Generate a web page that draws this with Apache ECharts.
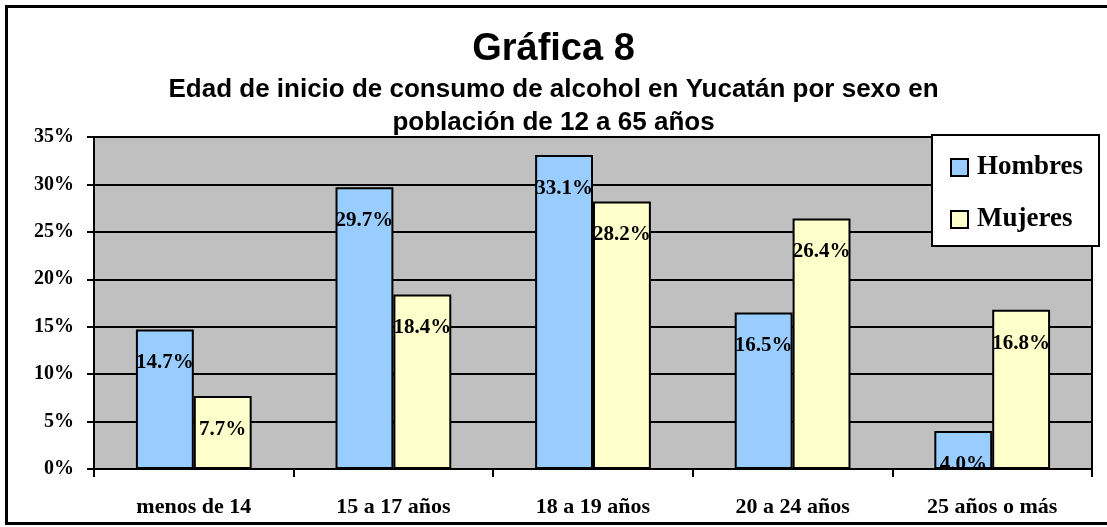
<!DOCTYPE html>
<html>
<head>
<meta charset="utf-8">
<script src="https://cdn.jsdelivr.net/npm/echarts@6/dist/echarts.min.js"></script>
<style>
  html, body { margin: 0; padding: 0; background: #fff; }
  #chart-container { width: 1107px; height: 527px; }
</style>
</head>
<body>
<div id="chart-container"></div>
<script>
const categories = ['menos de 14', '15 a 17 años', '18 a 19 años', '20 a 24 años', '25 años o más']
const hombres = [14.7, 29.7, 33.1, 16.5, 4.0]
const mujeres = [7.7, 18.4, 28.2, 26.4, 16.8]
const seriesNames = ['Hombres', 'Mujeres']

const serif = '"Liberation Serif", "DejaVu Serif", serif'
const sans = '"Liberation Sans", Arial, sans-serif'

const dom = document.getElementById('chart-container')
const myChart = echarts.init(dom, null, { renderer: 'canvas' })

const barLabel = {
  show: true,
  position: 'insideTop',
  distance: 23,
  color: '#000',
  fontFamily: serif,
  fontWeight: 'bold',
  fontSize: 21,
  formatter: p => p.value.toFixed(1) + '%'
}

const options = {
  animation: false,
  backgroundColor: '#fff',
  graphic: [{
    type: 'rect',
    silent: true,
    z: 100,
    shape: { x: 6.5, y: 6.5, width: 1110, height: 517 },
    style: { fill: 'none', stroke: '#000', lineWidth: 3 }
  }],
  title: [
    {
      text: 'Gráfica 8',
      left: 'center',
      top: 26,
      textStyle: { fontFamily: sans, fontWeight: 'bold', fontSize: 38, color: '#000' }
    },
    {
      text: 'Edad de inicio de consumo de alcohol en Yucatán por sexo en\npoblación de 12 a 65 años',
      left: 'center',
      top: 68,
      textStyle: { fontFamily: sans, fontWeight: 'bold', fontSize: 26, lineHeight: 33, color: '#000', align: 'center' }
    }
  ],
  legend: {
    orient: 'vertical',
    left: 932,
    top: 135,
    padding: [19, 16, 13, 18],
    itemGap: 25,
    itemWidth: 17,
    itemHeight: 17,
    icon: 'rect',
    backgroundColor: '#fff',
    borderColor: '#000',
    borderWidth: 2,
    z: 10,
    textStyle: { fontFamily: serif, fontWeight: 'bold', fontSize: 27, color: '#000', padding: [0, 0, 0, 4] },
    data: seriesNames
  },
  grid: {
    show: true,
    left: 94,
    right: 15,
    top: 137,
    bottom: 58,
    backgroundColor: '#C0C0C0',
    borderColor: '#000',
    borderWidth: 2
  },
  xAxis: {
    type: 'category',
    data: categories,
    axisLine: { lineStyle: { color: '#000', width: 2 } },
    axisTick: { show: true, length: 8, lineStyle: { color: '#000', width: 2 } },
    axisLabel: { margin: 27, color: '#000', fontFamily: serif, fontWeight: 'bold', fontSize: 22 }
  },
  yAxis: {
    type: 'value',
    min: 0,
    max: 35,
    interval: 5,
    axisLine: { show: true, lineStyle: { color: '#000', width: 2 } },
    axisTick: { show: true, length: 7, lineStyle: { color: '#000', width: 2 } },
    axisLabel: { margin: 20, color: '#000', fontFamily: serif, fontWeight: 'bold', fontSize: 20, formatter: '{value}%' },
    splitLine: { lineStyle: { color: '#000', width: 2 } }
  },
  series: [
    {
      name: seriesNames[0],
      type: 'bar',
      barGap: '0%',
      barCategoryGap: '42%',
      itemStyle: { color: '#99CCFF', borderColor: '#000', borderWidth: 2 },
      label: barLabel,
      data: hombres
    },
    {
      name: seriesNames[1],
      type: 'bar',
      barGap: '0%',
      barCategoryGap: '42%',
      itemStyle: { color: '#FFFFCC', borderColor: '#000', borderWidth: 2 },
      label: barLabel,
      data: mujeres
    }
  ]
}

myChart.setOption(options)
window.addEventListener('resize', myChart.resize)
</script>
</body>
</html>
